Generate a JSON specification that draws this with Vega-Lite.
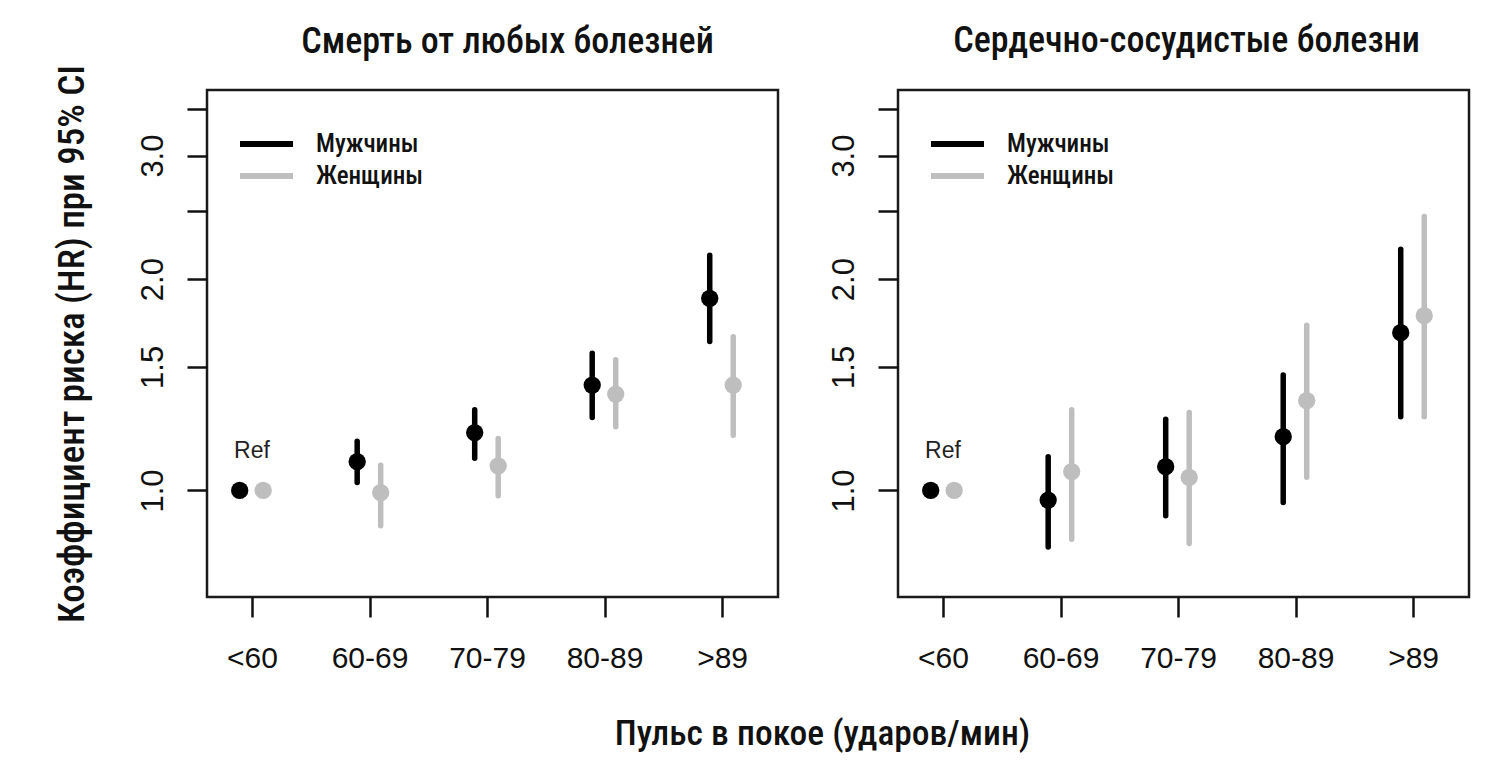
{
  "$schema": "https://vega.github.io/schema/vega-lite/v6.json",
  "background": "white",
  "padding": {"left": 51, "top": 21, "right": 5, "bottom": 5},
  "config": {
    "view": {"stroke": "#1a1a1a", "strokeWidth": 2.5},
    "axis": {"grid": false, "domain": false, "tickColor": "#111", "tickWidth": 2.5, "tickSize": 20, "labelColor": "#111", "titleColor": "#111"}
  },
  "datasets": {
    "hr": [
      {"panel": "all", "group": "<60", "sex": "Мужчины", "hr": 1.0},
      {"panel": "all", "group": "<60", "sex": "Женщины", "hr": 1.0},
      {"panel": "all", "group": "60-69", "sex": "Мужчины", "hr": 1.099, "lo": 1.026, "hi": 1.175},
      {"panel": "all", "group": "60-69", "sex": "Женщины", "hr": 0.993, "lo": 0.891, "hi": 1.086},
      {"panel": "all", "group": "70-79", "sex": "Мужчины", "hr": 1.209, "lo": 1.111, "hi": 1.303},
      {"panel": "all", "group": "70-79", "sex": "Женщины", "hr": 1.084, "lo": 0.983, "hi": 1.186},
      {"panel": "all", "group": "80-89", "sex": "Мужчины", "hr": 1.413, "lo": 1.270, "hi": 1.569},
      {"panel": "all", "group": "80-89", "sex": "Женщины", "hr": 1.372, "lo": 1.232, "hi": 1.535},
      {"panel": "all", "group": ">89", "sex": "Мужчины", "hr": 1.878, "lo": 1.630, "hi": 2.163},
      {"panel": "all", "group": ">89", "sex": "Женщины", "hr": 1.413, "lo": 1.199, "hi": 1.656},
      {"panel": "cvd", "group": "<60", "sex": "Мужчины", "hr": 1.0},
      {"panel": "cvd", "group": "<60", "sex": "Женщины", "hr": 1.0},
      {"panel": "cvd", "group": "60-69", "sex": "Мужчины", "hr": 0.969, "lo": 0.831, "hi": 1.117},
      {"panel": "cvd", "group": "60-69", "sex": "Женщины", "hr": 1.064, "lo": 0.852, "hi": 1.303},
      {"panel": "cvd", "group": "70-79", "sex": "Мужчины", "hr": 1.081, "lo": 0.920, "hi": 1.263},
      {"panel": "cvd", "group": "70-79", "sex": "Женщины", "hr": 1.044, "lo": 0.840, "hi": 1.291},
      {"panel": "cvd", "group": "80-89", "sex": "Мужчины", "hr": 1.193, "lo": 0.961, "hi": 1.460},
      {"panel": "cvd", "group": "80-89", "sex": "Женщины", "hr": 1.343, "lo": 1.044, "hi": 1.720},
      {"panel": "cvd", "group": ">89", "sex": "Мужчины", "hr": 1.678, "lo": 1.273, "hi": 2.206},
      {"panel": "cvd", "group": ">89", "sex": "Женщины", "hr": 1.774, "lo": 1.273, "hi": 2.456}
    ],
    "ref": [
      {"panel": "all", "group": "<60", "hr": 1.0, "label": "Ref"},
      {"panel": "cvd", "group": "<60", "hr": 1.0, "label": "Ref"}
    ]
  },
  "bounds": "flush",
  "spacing": 120,
  "resolve": {"scale": {"color": "independent"}, "legend": {"color": "independent"}},
  "hconcat": [
    {
      "width": 571,
      "height": 507,
      "title": {"text": "Смерть от любых болезней", "frame": "group", "font": "Roboto Condensed, DejaVu Sans Condensed, sans-serif", "fontSize": 36, "fontWeight": 500, "color": "#111", "baseline": "alphabetic", "offset": -24.5, "anchor": "middle", "dx": 15},
      "layer": [
        {
          "data": {"name": "hr"},
          "transform": [
            {"filter": "datum.panel === 'all'"},
            {"calculate": "indexof(['<60','60-69','70-79','80-89','>89'], datum.group) + 1 + (datum.sex === 'Мужчины' ? -0.105 : 0.095)", "as": "xpos"}
          ],
          "mark": {"type": "rule", "strokeWidth": 5.5, "strokeCap": "round"},
          "encoding": {
            "x": {"field": "xpos", "type": "quantitative", "scale": {"domain": [0.617, 5.476], "nice": false, "zero": false},
              "axis": {"values": [1, 2, 3, 4, 5], "labelExpr": "['<60','60-69','70-79','80-89','>89'][datum.value-1]", "labelFont": "Liberation Sans, Arial, sans-serif", "labelFontSize": 30, "labelBaseline": "alphabetic", "labelPadding": 50, "labelFlush": false, "labelOverlap": false,
                "title": "Пульс в покое (ударов/мин)", "titleFont": "Roboto Condensed, DejaVu Sans Condensed, sans-serif", "titleFontSize": 35.5, "titleFontWeight": 500, "titleBaseline": "alphabetic", "titleAlign": "center", "titleX": 615, "titleY": 147}},
            "y": {"field": "lo", "type": "quantitative", "scale": {"type": "log", "domain": [0.705, 3.72], "nice": false, "zero": false},
              "axis": {"values": [1, 1.5, 2, 2.5, 3, 3.5], "labelExpr": "datum.value == 2.5 || datum.value == 3.5 ? '' : format(datum.value, '.1f')", "labelAngle": -90, "labelAlign": "center", "labelBaseline": "alphabetic", "labelPadding": 25, "labelFont": "Liberation Sans, Arial, sans-serif", "labelFontSize": 31, "labelOverlap": false, "labelFlush": false,
                "title": "Коэффициент риска (HR) при 95% CI", "titleFont": "Roboto Condensed, DejaVu Sans Condensed, sans-serif", "titleFontSize": 37, "titleFontWeight": 500, "titleAngle": 270, "titleBaseline": "alphabetic", "titleAlign": "center", "titleX": -124, "titleY": 253.5}},
            "y2": {"field": "hi"},
            "color": {"field": "sex", "type": "nominal", "scale": {"domain": ["Мужчины", "Женщины"], "range": ["#000000", "#bebebe"]},
              "legend": {"title": null, "orient": "none", "legendX": 30, "legendY": 42, "symbolType": "stroke", "symbolSize": 2809, "symbolStrokeWidth": 6, "clipHeight": 24, "rowPadding": 7, "labelFont": "Roboto Condensed, DejaVu Sans Condensed, sans-serif", "labelFontWeight": 500, "labelFontSize": 25, "labelColor": "#111", "labelOffset": 20, "padding": 0}}
          }
        },
        {
          "data": {"name": "hr"},
          "transform": [
            {"filter": "datum.panel === 'all'"},
            {"calculate": "indexof(['<60','60-69','70-79','80-89','>89'], datum.group) + 1 + (datum.sex === 'Мужчины' ? -0.105 : 0.095)", "as": "xpos"}
          ],
          "mark": {"type": "point", "filled": true, "size": 300, "opacity": 1},
          "encoding": {
            "x": {"field": "xpos", "type": "quantitative"},
            "y": {"field": "hr", "type": "quantitative"},
            "color": {"field": "sex", "type": "nominal", "legend": null}
          }
        },
        {
          "data": {"name": "ref"},
          "transform": [
            {"filter": "datum.panel === 'all'"},
            {"calculate": "indexof(['<60','60-69','70-79','80-89','>89'], datum.group) + 1", "as": "xpos"}
          ],
          "mark": {"type": "text", "font": "Liberation Sans, Arial, sans-serif", "fontSize": 23, "color": "#222", "baseline": "alphabetic", "align": "center", "dy": -32},
          "encoding": {
            "x": {"field": "xpos", "type": "quantitative"},
            "y": {"field": "hr", "type": "quantitative"},
            "text": {"field": "label"}
          }
        },
        {
          "mark": {"type": "rule", "strokeDash": [10, 10], "strokeWidth": 2.5, "color": "#000"},
          "encoding": {"y": {"datum": 1, "type": "quantitative"}}
        }
      ]
    },
    {
      "width": 571,
      "height": 507,
      "title": {"text": "Сердечно-сосудистые болезни", "frame": "group", "font": "Roboto Condensed, DejaVu Sans Condensed, sans-serif", "fontSize": 36, "fontWeight": 500, "color": "#111", "baseline": "alphabetic", "offset": 2, "anchor": "middle", "dx": 3},
      "layer": [
        {
          "data": {"name": "hr"},
          "transform": [
            {"filter": "datum.panel === 'cvd'"},
            {"calculate": "indexof(['<60','60-69','70-79','80-89','>89'], datum.group) + 1 + (datum.sex === 'Мужчины' ? -0.105 : 0.095)", "as": "xpos"}
          ],
          "mark": {"type": "rule", "strokeWidth": 5.5, "strokeCap": "round"},
          "encoding": {
            "x": {"field": "xpos", "type": "quantitative", "scale": {"domain": [0.617, 5.476], "nice": false, "zero": false},
              "axis": {"values": [1, 2, 3, 4, 5], "labelExpr": "['<60','60-69','70-79','80-89','>89'][datum.value-1]", "labelFont": "Liberation Sans, Arial, sans-serif", "labelFontSize": 30, "labelBaseline": "alphabetic", "labelPadding": 50, "labelFlush": false, "labelOverlap": false, "title": null}},
            "y": {"field": "lo", "type": "quantitative", "scale": {"type": "log", "domain": [0.705, 3.72], "nice": false, "zero": false},
              "axis": {"values": [1, 1.5, 2, 2.5, 3, 3.5], "labelExpr": "datum.value == 2.5 || datum.value == 3.5 ? '' : format(datum.value, '.1f')", "labelAngle": -90, "labelAlign": "center", "labelBaseline": "alphabetic", "labelPadding": 25, "labelFont": "Liberation Sans, Arial, sans-serif", "labelFontSize": 31, "labelOverlap": false, "labelFlush": false, "title": null}},
            "y2": {"field": "hi"},
            "color": {"field": "sex", "type": "nominal", "scale": {"domain": ["Мужчины", "Женщины"], "range": ["#000000", "#bebebe"]},
              "legend": {"title": null, "orient": "none", "legendX": 30, "legendY": 42, "symbolType": "stroke", "symbolSize": 2809, "symbolStrokeWidth": 6, "clipHeight": 24, "rowPadding": 7, "labelFont": "Roboto Condensed, DejaVu Sans Condensed, sans-serif", "labelFontWeight": 500, "labelFontSize": 25, "labelColor": "#111", "labelOffset": 20, "padding": 0}}
          }
        },
        {
          "data": {"name": "hr"},
          "transform": [
            {"filter": "datum.panel === 'cvd'"},
            {"calculate": "indexof(['<60','60-69','70-79','80-89','>89'], datum.group) + 1 + (datum.sex === 'Мужчины' ? -0.105 : 0.095)", "as": "xpos"}
          ],
          "mark": {"type": "point", "filled": true, "size": 300, "opacity": 1},
          "encoding": {
            "x": {"field": "xpos", "type": "quantitative"},
            "y": {"field": "hr", "type": "quantitative"},
            "color": {"field": "sex", "type": "nominal", "legend": null}
          }
        },
        {
          "data": {"name": "ref"},
          "transform": [
            {"filter": "datum.panel === 'cvd'"},
            {"calculate": "indexof(['<60','60-69','70-79','80-89','>89'], datum.group) + 1", "as": "xpos"}
          ],
          "mark": {"type": "text", "font": "Liberation Sans, Arial, sans-serif", "fontSize": 23, "color": "#222", "baseline": "alphabetic", "align": "center", "dy": -32},
          "encoding": {
            "x": {"field": "xpos", "type": "quantitative"},
            "y": {"field": "hr", "type": "quantitative"},
            "text": {"field": "label"}
          }
        },
        {
          "mark": {"type": "rule", "strokeDash": [10, 10], "strokeWidth": 2.5, "color": "#000"},
          "encoding": {"y": {"datum": 1, "type": "quantitative"}}
        }
      ]
    }
  ]
}
